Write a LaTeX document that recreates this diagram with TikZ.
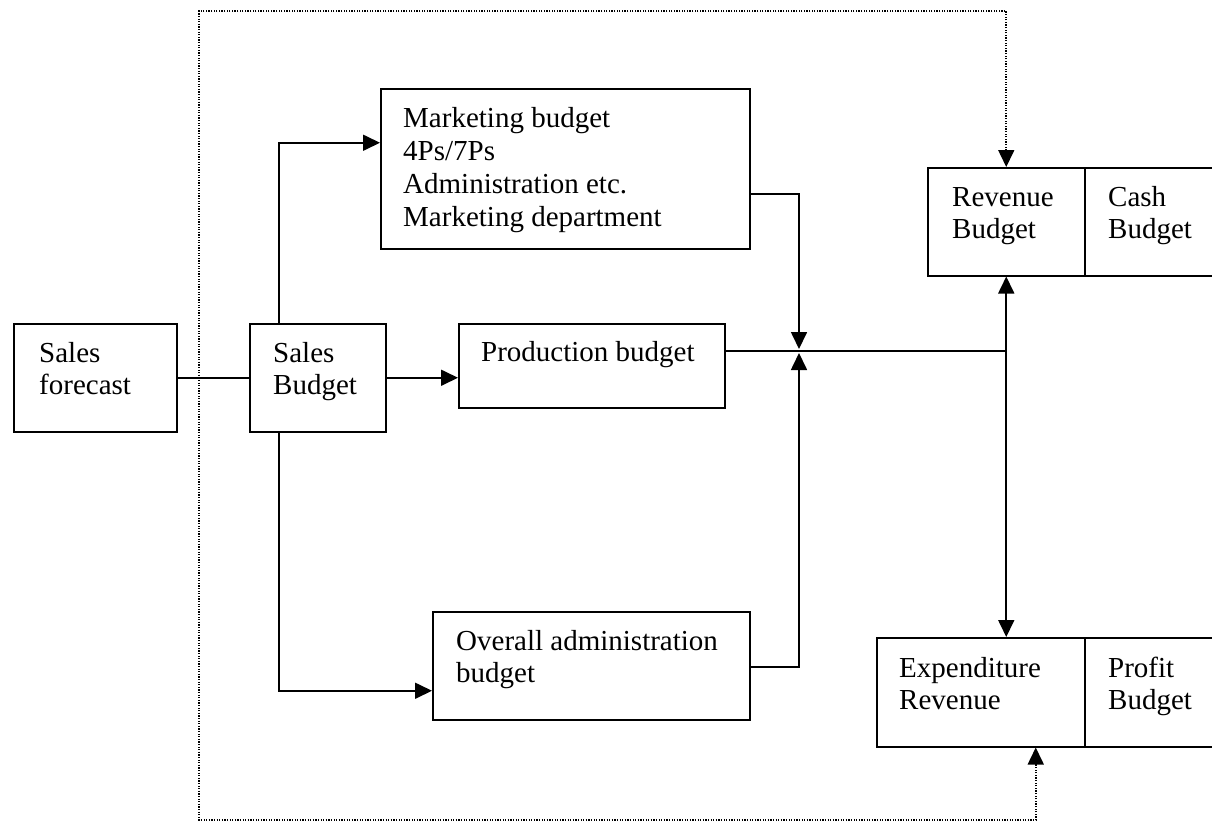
\documentclass[tikz,border=0pt]{standalone}
\usepackage{fontspec}
\setmainfont{Liberation Serif}
\usetikzlibrary{arrows.meta}
\tikzset{
  box/.style={draw, line width=1.5pt, rectangle, inner sep=0pt, anchor=north west},
  txt/.style={anchor=base west, inner sep=0pt, font=\fontsize{29}{32}\selectfont},
  ln/.style={line width=1.7pt},
  tip/.style={-{Triangle[length=17pt,width=16pt]}},
  dtip/.style={{Triangle[length=17pt,width=16pt]}-{Triangle[length=17pt,width=16pt]}},
  dotln/.style={line width=1.6pt, dash pattern=on 1.3pt off 1.3pt}
}
\begin{document}
\begin{tikzpicture}[x=1pt,y=-1pt]
\clip (0,0) rectangle (1212,822);
\fill[white] (0,0) rectangle (1212,822);
% boxes
\node[box, minimum width=163pt, minimum height=108pt] (sf) at (13,323) {};
\node[box, minimum width=136pt, minimum height=108pt] (sb) at (249,323) {};
\node[box, minimum width=266pt, minimum height=84pt] (pb) at (458,323) {};
\node[box, minimum width=369pt, minimum height=160pt] (mb) at (380,88) {};
\node[box, minimum width=317pt, minimum height=108pt] (ab) at (432,611) {};
\node[box, minimum width=157pt, minimum height=108pt] (rev) at (927,167) {};
\node[box, minimum width=140pt, minimum height=108pt] (cash) at (1084,167) {};
\node[box, minimum width=208pt, minimum height=109pt] (ex) at (876,637) {};
\node[box, minimum width=140pt, minimum height=109pt] (pr) at (1084,637) {};
% texts
\node[txt] (tsf) at (39,362) {\begin{tabular}[t]{@{}l@{}}Sales\\forecast\end{tabular}};
\node[txt] (tsb) at (273,362) {\begin{tabular}[t]{@{}l@{}}Sales\\Budget\end{tabular}};
\node[txt] (tpb) at (481,361) {Production budget};
\node[txt, font=\fontsize{29}{33.3}\selectfont] (tmb) at (403,127) {\begin{tabular}[t]{@{}l@{}}Marketing budget\\4Ps/7Ps\\Administration etc.\\Marketing department\end{tabular}};
\node[txt] (tab) at (456,650) {\begin{tabular}[t]{@{}l@{}}Overall administration\\budget\end{tabular}};
\node[txt] (trev) at (952,206) {\begin{tabular}[t]{@{}l@{}}Revenue\\Budget\end{tabular}};
\node[txt] (tcash) at (1108,206) {\begin{tabular}[t]{@{}l@{}}Cash\\Budget\end{tabular}};
\node[txt] (tex) at (899,677) {\begin{tabular}[t]{@{}l@{}}Expenditure\\Revenue\end{tabular}};
\node[txt] (tpr) at (1108,677) {\begin{tabular}[t]{@{}l@{}}Profit\\Budget\end{tabular}};
% junction coordinates
\coordinate (j) at (799,351);
\coordinate (tl) at (199,11);
\coordinate (bl) at (199,820);
% connectors
\draw[ln] (sf.east) -- (sb.west);
\draw[ln,tip] (sb.east) -- (sb.east -| pb.west);
\draw[ln,tip] ([xshift=-39pt]sb.north) |- ([yshift=26pt]mb.west);
\draw[ln,tip] ([xshift=-39pt]sb.south) |- ([yshift=-25pt]ab.west);
\draw[ln,tip,shorten >=2pt] ([yshift=-25pt]mb.east) -| (j);
\draw[ln,tip,shorten >=2pt] ([yshift=-1pt]ab.east) -| (j);
\draw[ln] (pb.east |- j) -- (j -| rev.south);
\draw[ln,dtip] (rev.south) -- (rev.south |- ex.north);
% dotted feedback loop
\draw[dotln,dtip] (rev.north) |- (tl) |- ([xshift=55pt]ex.south |- bl) -- ([xshift=55pt]ex.south);
\end{tikzpicture}
\end{document}
